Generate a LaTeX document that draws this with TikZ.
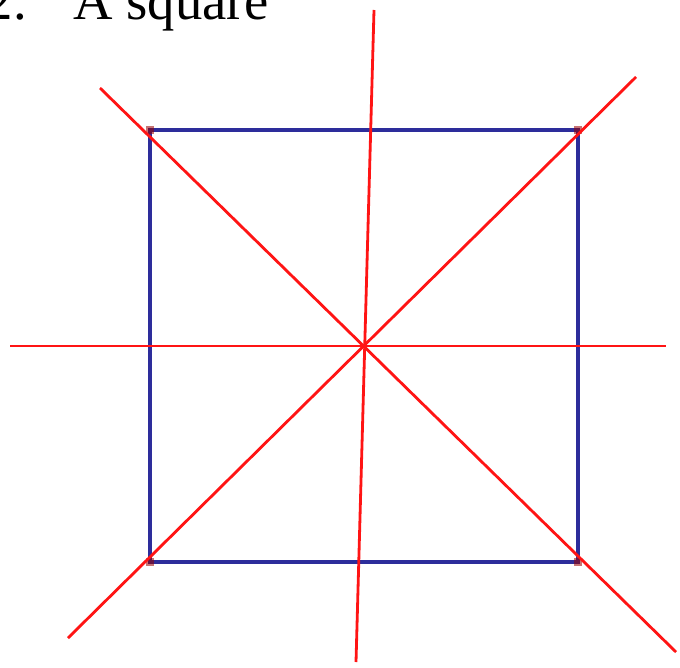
\documentclass[tikz,border=0pt]{standalone}
\usepackage{fontspec}
\setmainfont{Liberation Serif}
\usetikzlibrary{positioning}
\definecolor{sqblue}{RGB}{45,45,155}
\definecolor{axred}{RGB}{255,20,20}

\begin{document}
\begin{tikzpicture}[
  x=0.75pt, y=-0.75pt,
  side/.style={draw=sqblue, line width=3.4pt},
  axis/.style={draw=axred, line width=2.1pt},
  cornermark/.style={fill=red!60!black, fill opacity=0.55, minimum size=6pt, inner sep=0pt},
  label/.style={font=\fontsize{41}{41}\selectfont, inner sep=0pt}
]
\clip (0,0) rectangle (680,667);
\useasboundingbox (0,0) rectangle (680,667);
% caption, cut at the top
\node[label, anchor=base east] (num) at (27,20) {2.};
\node[label, anchor=base west] (title) at (73,20) {A square};
% corners of the square
\coordinate (tl) at (150,130);
\coordinate (tr) at (578,130);
\coordinate (br) at (578,562);
\coordinate (bl) at (150,562);
% ends of the lines of symmetry
\coordinate (hl) at (10,346);
\coordinate (hr) at (666,346);
\coordinate (vt) at (374,10);
\coordinate (vb) at (356,662);
\coordinate (d1a) at (100,88);
\coordinate (d1b) at (676,652);
\coordinate (d2a) at (68,638);
\coordinate (d2b) at (636,77);
\draw[side] (tl) -- (tr) -- (br) -- (bl) -- cycle;
\foreach \c in {tl,tr,br,bl}
  \node[cornermark] at (\c) {};
\draw[axis] (hl) -- (hr);
\draw[axis] (vt) -- (vb);
\draw[axis] (d1a) -- (d1b);
\draw[axis] (d2a) -- (d2b);
\end{tikzpicture}
\end{document}
